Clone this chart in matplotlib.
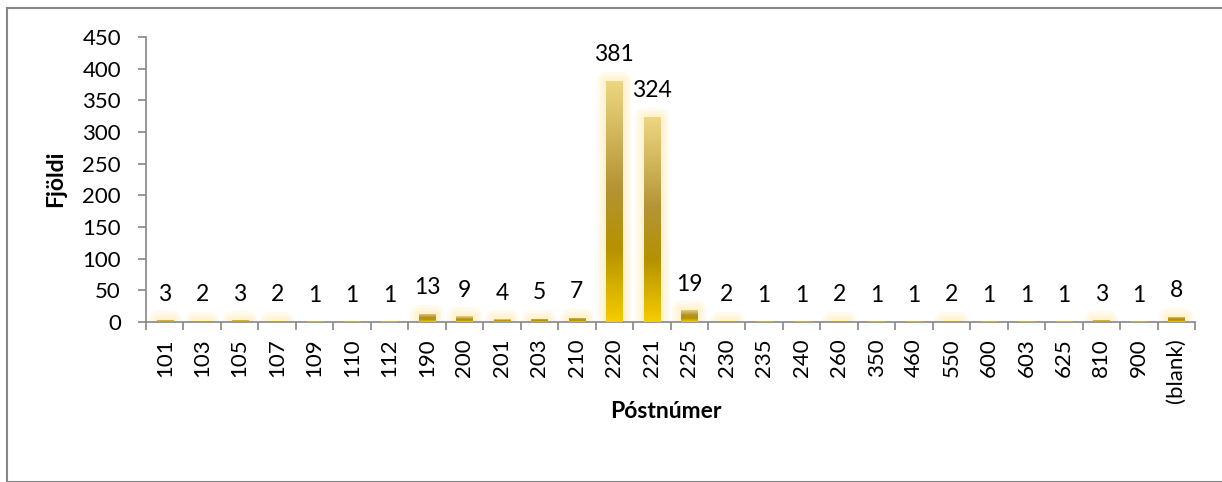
import matplotlib
matplotlib.use("Agg")
import matplotlib.pyplot as plt
import matplotlib.patheffects as pe
from matplotlib.colors import LinearSegmentedColormap
from matplotlib.patches import Rectangle
import numpy as np

plt.rcParams['font.family'] = ['Lato', 'DejaVu Sans']

postnumer = ["101", "103", "105", "107", "109", "110", "112", "190", "200", "201",
             "203", "210", "220", "221", "225", "230", "235", "240", "260", "350",
             "460", "550", "600", "603", "625", "810", "900", "(blank)"]
fjoldi = [3, 2, 3, 2, 1, 1, 1, 13, 9, 4, 5, 7, 381, 324, 19, 2, 1, 1, 2, 1,
          1, 2, 1, 1, 1, 3, 1, 8]

gold = LinearSegmentedColormap.from_list(
    "gold", [(0.0, "#f6cc00"), (0.3, "#b59200"), (0.55, "#b39434"), (1.0, "#eed783")])
grad = np.linspace(0, 1, 256).reshape(-1, 1)

fig = plt.figure(figsize=(12.22, 4.82), dpi=100)
ax = fig.add_axes([146 / 1222, 1 - 322 / 482, (1195 - 146) / 1222, (322 - 37) / 482])

x = np.arange(len(postnumer))
bars = ax.bar(x, fjoldi, width=0.43, color="none", edgecolor="none", zorder=2)
for b, v in zip(bars, fjoldi):
    if v > 1:
        glow = [pe.Stroke(linewidth=w, foreground="#ffe9a8", alpha=0.2, joinstyle="round")
                for w in (13, 9, 5)]
        b.set_path_effects(glow + [pe.Normal()])
    x0, y0 = b.get_x(), b.get_y()
    im = ax.imshow(grad, cmap=gold, origin="lower", aspect="auto", zorder=3,
                   extent=[x0, x0 + b.get_width(), y0, y0 + b.get_height()])
    im.set_clip_path(b)

for xi, v in zip(x, fjoldi):
    ax.annotate(str(v), (xi, v), xytext=(0, 14), textcoords="offset points",
                ha="center", va="baseline", fontsize=16.5, color="black")

ax.set_xlim(-0.5, len(postnumer) - 0.5)
ax.set_ylim(0, 450)
ax.set_yticks(range(0, 451, 50))
ax.set_xticks(x)
ax.set_xticklabels(postnumer, rotation=90, fontsize=16)
ax.set_xticks(np.arange(len(postnumer) + 1) - 0.5, minor=True)
ax.tick_params(axis="x", which="major", length=0, pad=12)
ax.tick_params(axis="x", which="minor", length=5.5, color="#868686", width=1.2)
ax.tick_params(axis="y", length=6, color="#868686", width=1.2, labelsize=16, pad=12)
for s in ["top", "right"]:
    ax.spines[s].set_visible(False)
for s in ["left", "bottom"]:
    ax.spines[s].set_color("#868686")
    ax.spines[s].set_linewidth(1.2)

fig.text(56 / 1222, 1 - 179 / 482, "Fjöldi", fontsize=16.5, fontweight="bold",
         rotation=90, ha="center", va="center")
fig.text(666 / 1222, 1 - 411 / 482, "Póstnúmer", fontsize=16.5, fontweight="bold",
         ha="center", va="center")

fig.patches.append(Rectangle((7 / 1222, 0), 1.5, 1 - 8 / 482 - 1e-9, transform=fig.transFigure,
                             fill=False, edgecolor="#868686", linewidth=1.5))

fig.savefig("out.png", dpi=100)
